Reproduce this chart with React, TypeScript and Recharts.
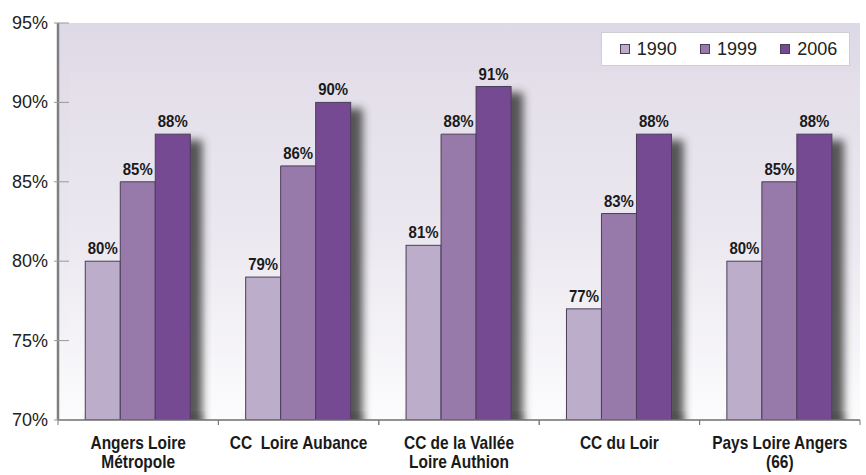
import { Bar, BarChart, LabelList, Legend, XAxis, YAxis } from "recharts"

const CATEGORIES = [
  "Angers Loire\nMétropole",
  "CC  Loire Aubance",
  "CC de la Vallée\nLoire Authion",
  "CC du Loir",
  "Pays Loire Angers\n(66)",
]
const V1990 = [80, 79, 81, 77, 80]
const V1999 = [85, 86, 88, 83, 85]
const V2006 = [88, 90, 91, 88, 88]
const Y_TICKS = [70, 75, 80, 85, 90, 95]

const data = CATEGORIES.map((name, i) => ({
  name,
  y1990: V1990[i],
  y1999: V1999[i],
  y2006: V2006[i],
}))

const SANS = "'Liberation Sans', Arial, sans-serif"
const BORDER = "#4b3d58"

function YTick(props: any) {
  const { x, y, payload } = props
  return (
    <g>
      <line x1={x - 4} x2={x + 11} y1={y} y2={y} stroke="#999" />
      <text x={x - 10} y={y} dy={6} textAnchor="end" fontFamily={SANS} fontSize={18} fill="#222">
        {payload.value}%
      </text>
    </g>
  )
}

// the original uses a condensed face; squeeze Liberation Sans horizontally
function XTick(props: any) {
  const { x, y, payload } = props
  const lines = String(payload.value).split("\n")
  return (
    <g>
      <line x1={x - 80.2} x2={x - 80.2} y1={y - 8} y2={y - 3} stroke="#777" />
      <line x1={x + 80.2} x2={x + 80.2} y1={y - 8} y2={y - 3} stroke="#777" />
      <g transform={`translate(${x},0) scale(0.86,1) translate(${-x},0)`}>
        <text
          x={x}
          y={y + 21}
          textAnchor="middle"
          fontFamily={SANS}
          fontWeight="bold"
          fontSize={18}
          fill="#1a1a1a"
          style={{ whiteSpace: "pre" }}
        >
          {lines.map((l, i) => (
            <tspan key={i} x={x} dy={i === 0 ? 0 : 19}>
              {l}
            </tspan>
          ))}
        </text>
      </g>
    </g>
  )
}

function ValueLabel(props: any) {
  const { x, y, width, value } = props
  const cx = x + width / 2
  return (
    <g transform={`translate(${cx},0) scale(0.88,1) translate(${-cx},0)`}>
      <text x={cx} y={y - 7} textAnchor="middle" fontFamily={SANS} fontWeight="bold" fontSize={17} fill="#1a1a1a">
        {value}%
      </text>
    </g>
  )
}

// first series also lays the soft shadow under the whole group
function FirstBar(props: any) {
  const { x, y, width, height, fill } = props
  return (
    <g>
      <rect x={x + 4} y={y + height - 6} width={width * 3 + 8} height={13} fill="#555" opacity={0.55} filter="url(#blur)" />
      <rect x={x} y={y} width={width} height={height} fill={fill} stroke={BORDER} strokeWidth={1} />
    </g>
  )
}

function LastBar(props: any) {
  const { x, y, width, height, fill } = props
  return (
    <g>
      <rect x={x + width - 8} y={y + 6} width={20} height={height} fill="#3a3a3a" opacity={0.85} filter="url(#blur)" />
      <rect x={x} y={y} width={width} height={height} fill={fill} stroke={BORDER} strokeWidth={1} />
    </g>
  )
}

function LegendBox(props: any) {
  const items = props.payload || []
  return (
    <div
      style={{
        width: 249,
        height: 34,
        background: "#fff",
        border: "1px solid #cfcfcf",
        display: "flex",
        alignItems: "center",
        justifyContent: "space-around",
        paddingLeft: 6,
        boxSizing: "border-box",
        fontFamily: SANS,
        fontSize: 18,
        color: "#222",
      }}
    >
      {items.map((it: any) => (
        <span key={it.value} style={{ display: "flex", alignItems: "center" }}>
          <span
            style={{
              width: 8,
              height: 8,
              background: it.color,
              border: `1px solid ${BORDER}`,
              marginRight: 7,
              display: "inline-block",
            }}
          />
          {it.value}
        </span>
      ))}
    </div>
  )
}

export default function App() {
  return (
    <div style={{ position: "absolute", left: 0, top: 0, background: "#fff" }}>
      <BarChart
        width={866}
        height={475}
        data={data}
        margin={{ top: 23, right: 6, bottom: 0, left: 0 }}
        barCategoryGap="17%"
        barGap={0}
      >
        <defs>
          <linearGradient id="wall" x1="0" y1="0" x2="0" y2="1">
            <stop offset="0%" stopColor="#ded9e6" />
            <stop offset="55%" stopColor="#ebe7ef" />
            <stop offset="100%" stopColor="#fcfcfd" />
          </linearGradient>
          <filter id="blur" x="-100%" y="-20%" width="300%" height="140%">
            <feGaussianBlur stdDeviation="4.5" />
          </filter>
        </defs>
        <rect x={58} y={23} width={802} height={397} fill="url(#wall)" />
        <rect x={69} y={72} width={791} height={348} fill="#ffffff" opacity={0.07} />
        <XAxis
          dataKey="name"
          height={55}
          interval={0}
          tickLine={false}
          axisLine={{ stroke: "#6f6f6f", strokeWidth: 1.5 }}
          tick={<XTick />}
        />
        <XAxis xAxisId="top" dataKey="name" orientation="top" height={0} tick={false} tickLine={false} axisLine={{ stroke: "#7f7f7f", strokeWidth: 2.5 }} />
        <YAxis
          domain={[70, 95]}
          ticks={Y_TICKS}
          width={58}
          tickSize={0}
          tickMargin={0}
          tickLine={false}
          axisLine={{ stroke: "#7f7f7f", strokeWidth: 2.5 }}
          tick={<YTick />}
          allowDataOverflow
        />
        <YAxis yAxisId="right" orientation="right" width={0} domain={[70, 95]} tick={false} tickLine={false} axisLine={{ stroke: "#8a8a8a", strokeWidth: 2 }} />
        <Legend
          layout="vertical"
          align="center"
          verticalAlign="middle"
          wrapperStyle={{ position: "absolute", top: 32, left: 601, width: 249 }}
          content={<LegendBox />}
        />
        <Bar dataKey="y1990" name="1990" fill="#bcaecb" shape={<FirstBar />} isAnimationActive={false}>
          <LabelList dataKey="y1990" content={<ValueLabel />} />
        </Bar>
        <Bar dataKey="y1999" name="1999" fill="#9779aa" stroke={BORDER} isAnimationActive={false}>
          <LabelList dataKey="y1999" content={<ValueLabel />} />
        </Bar>
        <Bar dataKey="y2006" name="2006" fill="#764a92" shape={<LastBar />} isAnimationActive={false}>
          <LabelList dataKey="y2006" content={<ValueLabel />} />
        </Bar>
      </BarChart>
    </div>
  )
}
